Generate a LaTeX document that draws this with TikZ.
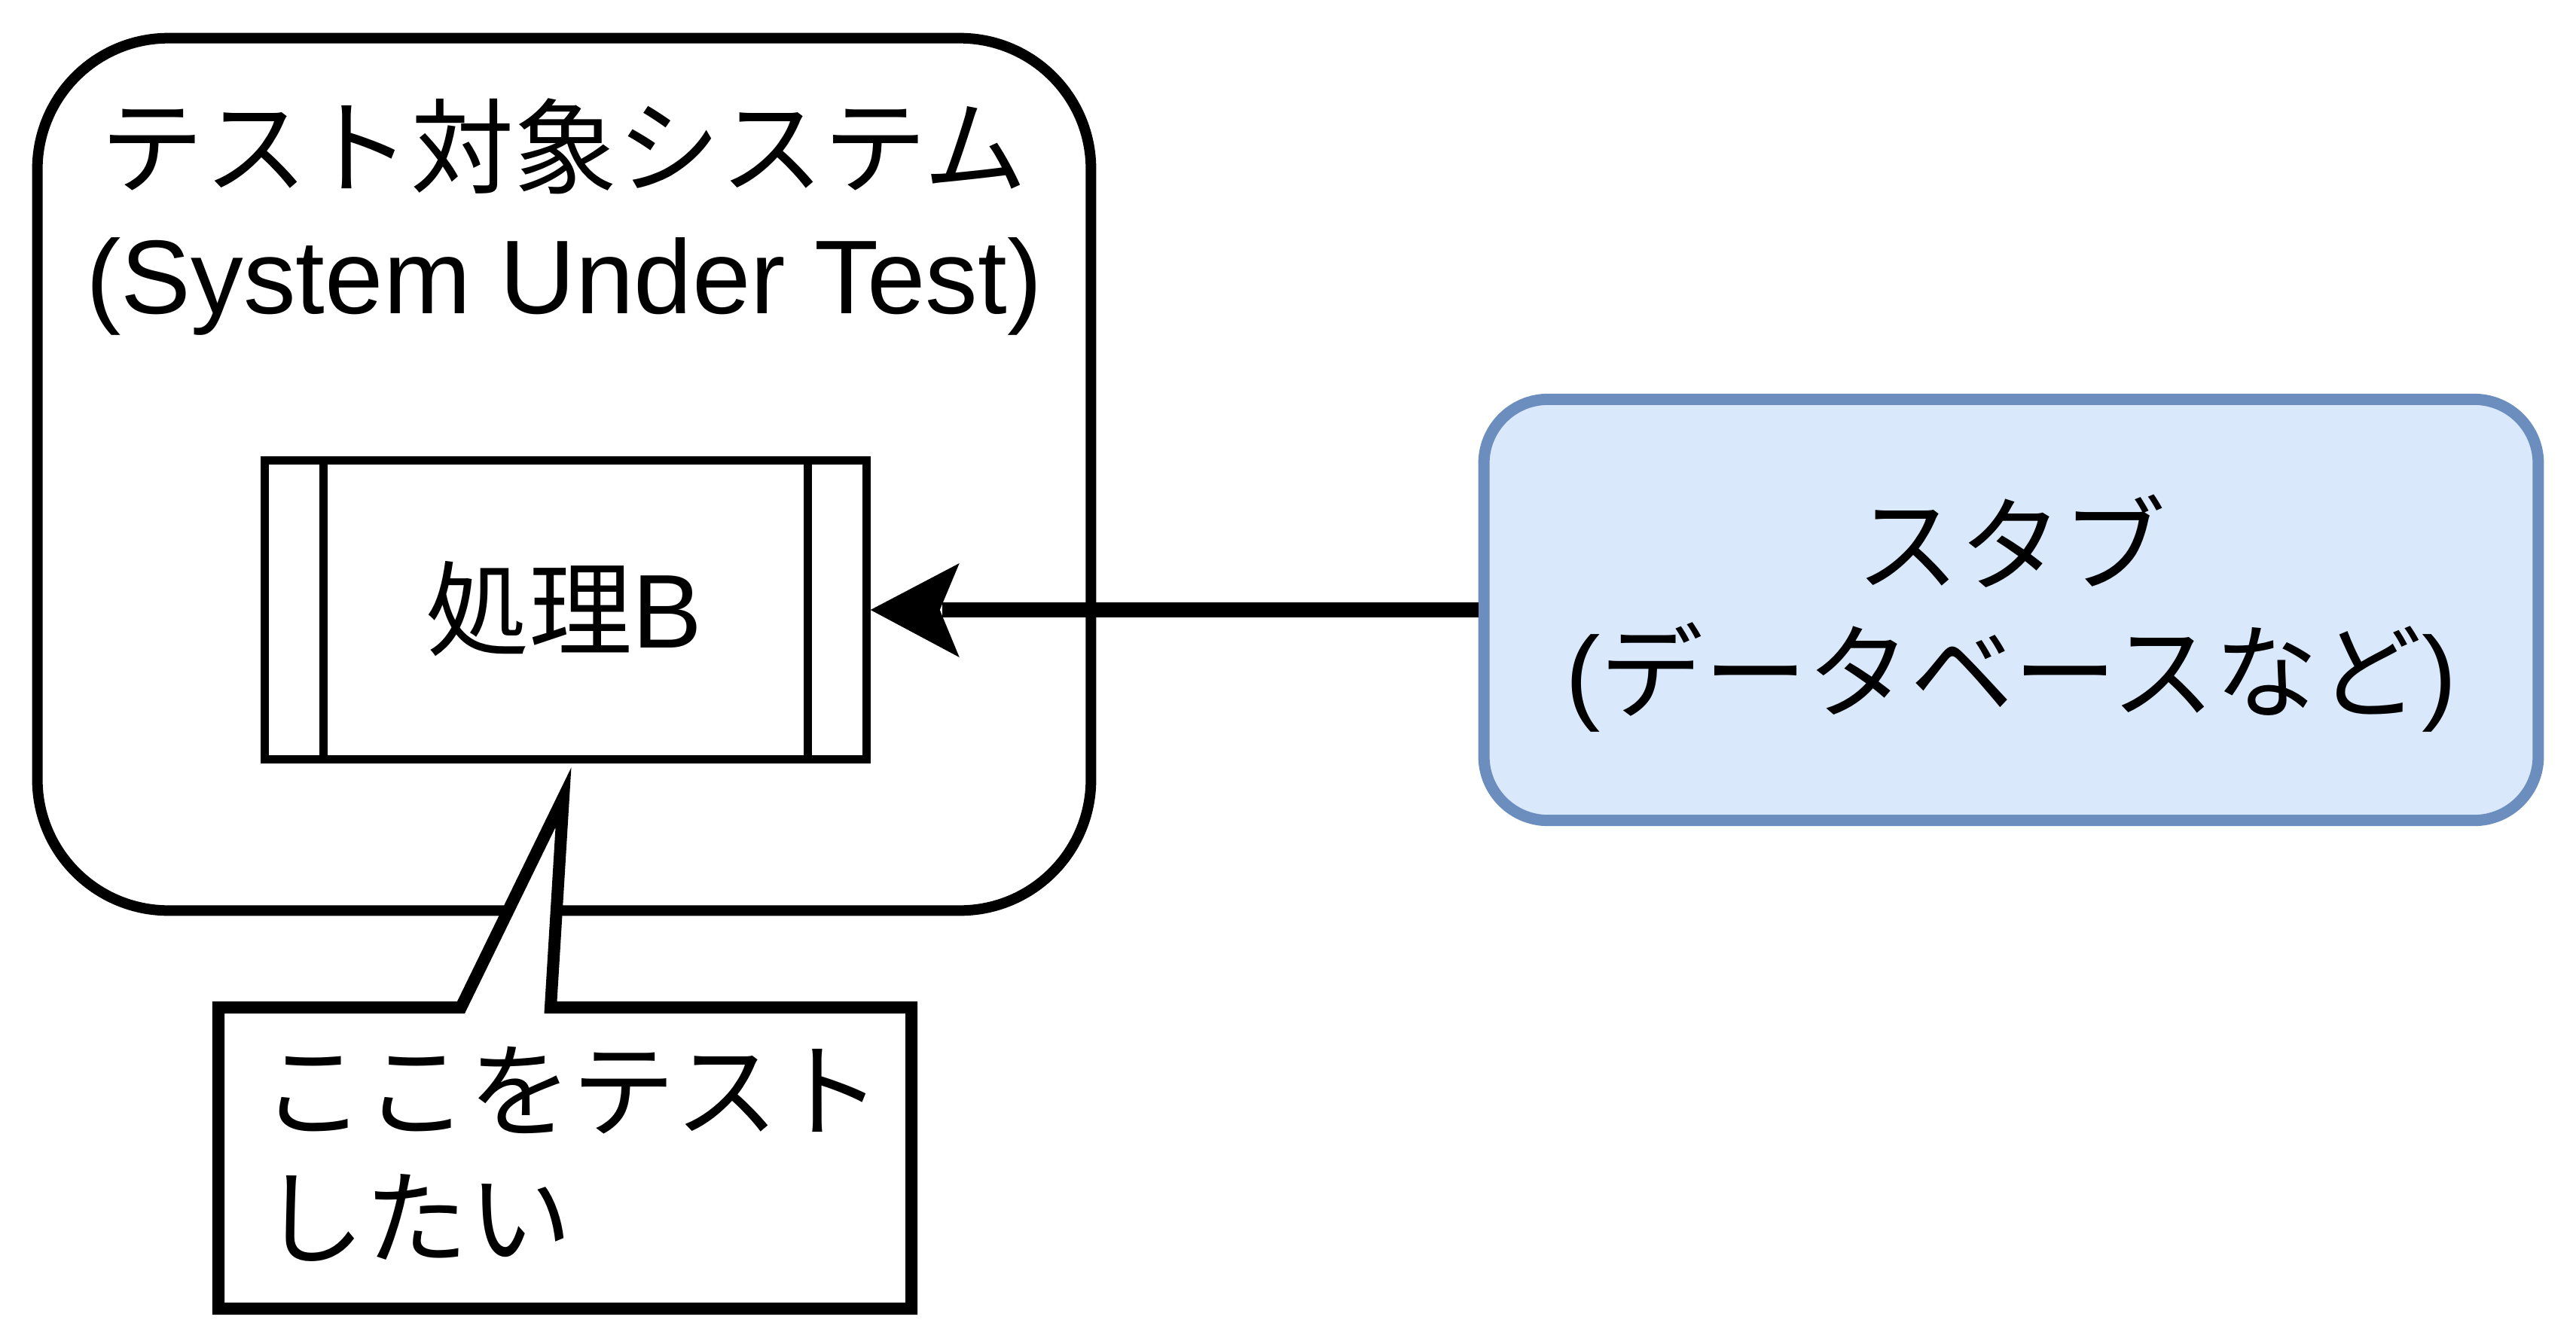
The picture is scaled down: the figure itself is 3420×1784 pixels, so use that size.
\documentclass[tikz,border=0pt]{standalone}
\usepackage{fontspec}
\setmainfont{Liberation Sans}
\newfontfamily\jp{Noto Sans CJK JP}
\usetikzlibrary{calc}
\definecolor{stubfill}{HTML}{DAE8FC}
\definecolor{stubline}{HTML}{6C8EBF}
\begin{document}
\begin{tikzpicture}[x=0.01cm,y=-0.01cm,
  lbl/.style={inner sep=0pt, font=\fontsize{39.6pt}{48pt}\selectfont},
  sutbox/.style={draw=black, line width=0.14cm, rounded corners=1.74cm, minimum width=13.98cm, minimum height=11.58cm, inner sep=0pt},
  procbox/.style={draw=black, fill=white, line width=0.11cm, minimum width=7.98cm, minimum height=3.97cm, inner sep=0pt},
  stubbox/.style={draw=stubline, fill=stubfill, line width=0.15cm, rounded corners=0.85cm, minimum width=13.99cm, minimum height=5.59cm, inner sep=0pt},
  notebox/.style={draw=black, fill=white, line width=0.16cm, line join=miter},
  conn/.style={draw=black, line width=0.2cm}]
\useasboundingbox (0,0) rectangle (3420,1784);
% System under test
\node[sutbox] (sut) at (749,630) {};
\node[lbl, anchor=base] (sutt1) at (749,246) {\jp\fontsize{39pt}{48pt}\selectfont テスト対象システム};
\node[lbl, anchor=base] (sutt2) at (749,416) {(System Under Test)};
% process
\node[procbox] (proc) at (751,810) {};
\draw[line width=0.11cm] ([xshift=0.835cm]proc.north west) -- ([xshift=0.835cm]proc.south west);
\draw[line width=0.11cm] ([xshift=-0.835cm]proc.north east) -- ([xshift=-0.835cm]proc.south east);
\node[lbl, anchor=base] (proct) at (749,860) {{\jp\fontsize{39pt}{48pt}\selectfont 処理}B};
% stub
\node[stubbox] (stub) at (2670,810) {};
\node[lbl, anchor=base] (stubt1) at (2670,774) {\jp\fontsize{39pt}{48pt}\selectfont スタブ};
\node[lbl, anchor=base] (stubt2) at (2670,943) {({\jp\fontsize{39pt}{48pt}\selectfont データベースなど})};
% arrow
\draw[conn] (stub.west) -- ([xshift=0.95cm]proc.east);
\fill[black] (proc.east) -- ++(118,-62) -- ++(-26,62) -- ++(26,63) -- cycle;
% callout
\coordinate (ptip) at (748,1059);
\draw[notebox] (290,1338) -- (612,1338) -- (ptip) -- (731,1338) -- (1210,1338) -- (1210,1738) -- (290,1738) -- cycle;
\node[lbl, anchor=base west] (note1) at (347,1499) {\jp\fontsize{39pt}{48pt}\selectfont ここをテスト};
\node[lbl, anchor=base west] (note2) at (347,1668) {\jp\fontsize{39pt}{48pt}\selectfont したい};
\end{tikzpicture}
\end{document}
